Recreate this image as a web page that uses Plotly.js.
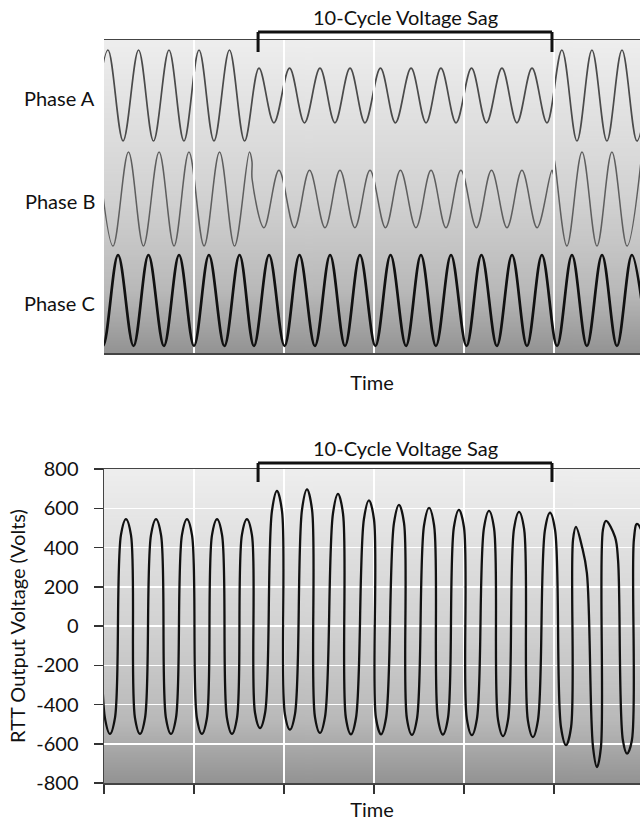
<!DOCTYPE html>
<html>
<head>
<meta charset="utf-8">
<script src="https://cdn.plot.ly/plotly-3.0.1.min.js"></script>
<style>html,body{margin:0;padding:0;background:#fff;overflow:hidden}</style>
</head>
<body>
<div id="chart" style="width:640px;height:822px"></div>
<script>
// ---------------- data (time in ms) ----------------
// Phase voltages in per-unit of the normal amplitude: peaks and troughs
const phaseA_t = [-6.1, 2.2, 10.6, 19.2, 27.5, 36.1, 44.4, 52.8, 61.1, 69.7, 78.1,
  86.1, 94.4, 103.1, 111.4, 120.0, 128.3, 136.7, 145.0, 153.6, 161.9, 170.6, 178.9,
  187.2, 195.6, 204.2, 212.5, 221.1, 229.4, 237.8, 246.1,
  254.4, 262.8, 271.1, 279.4, 287.8, 296.1, 304.4];
const phaseA_v = [-1, 1, -1, 1, -1, 1, -1, 1, -1, 1, -1,
  0.6, -0.6, 0.6, -0.6, 0.6, -0.6, 0.6, -0.6, 0.6, -0.6, 0.6, -0.6,
  0.6, -0.6, 0.6, -0.6, 0.6, -0.6, 0.6, -0.6,
  1, -1, 1, -1, 1, -1, 1];

const phaseB_t = [-3.3, 5.0, 13.6, 21.9, 30.6, 38.9, 47.2, 55.6, 64.2, 72.5, 80.8,
  82.2, 82.3,
  88.9, 97.2, 105.8, 114.2, 122.8, 131.1, 139.4, 147.8, 156.4, 164.7, 173.3, 181.7,
  190.0, 198.3, 206.9, 215.3, 223.9, 232.2, 240.6, 248.9,
  250.0, 250.1,
  257.2, 265.6, 273.9, 282.2, 290.6, 298.9];
const phaseB_v = [1, -1, 1, -1, 1, -1, 1, -1, 1, -1, 1,
  0.8, 0.42,
  -0.61, 0.61, -0.61, 0.61, -0.61, 0.61, -0.61, 0.61, -0.61, 0.61, -0.61, 0.61,
  -0.61, 0.61, -0.61, 0.61, -0.61, 0.61, -0.61, 0.61,
  0.5, 0.87,
  -1, 1, -1, 1, -1, 1];

const phaseC_t = [-9.2, -0.6, 7.8, 16.4, 24.7, 33.3, 41.7, 50.0, 58.3, 66.9, 75.3, 83.3,
  91.7, 100.3, 108.6, 117.2, 125.6, 133.9, 142.2, 150.8, 159.2, 167.8, 176.1, 184.4,
  192.8, 201.4, 209.7, 218.3, 226.7, 235.0, 243.3, 251.7, 260.0, 268.3, 276.7, 285.0,
  293.3, 301.7];
const phaseC_v = [1, -1, 1, -1, 1, -1, 1, -1, 1, -1, 1, -1,
  1, -1, 1, -1, 1, -1, 1, -1, 1, -1, 1, -1,
  1, -1, 1, -1, 1, -1, 1, -1, 1, -1, 1, -1,
  1, -1];

// RTT output voltage (Volts): for each lobe its shoulders and its extreme value
const rtt_t = [-7.2, -4.4,
  0.5, 3.3, 6.1,
  9.4, 12.2, 15.0,
  17.2, 20.0, 22.8,
  26.1, 28.9, 31.7,
  34.4, 37.2, 40.0,
  43.3, 46.1, 48.9,
  51.6, 54.4, 57.2,
  60.0, 62.8, 65.6,
  68.3, 71.1, 73.9,
  76.6, 79.4, 82.2,
  83.9, 86.7, 89.5,
  93.3, 96.1, 98.9,
  100.5, 103.3, 106.1,
  110.0, 112.8, 115.6,
  117.2, 120.0, 122.8,
  127.2, 130.0, 132.8,
  134.4, 137.2, 140.0,
  144.4, 147.2, 150.0,
  151.1, 153.9, 156.7,
  161.1, 163.9, 166.7,
  168.3, 171.1, 173.9,
  177.8, 180.6, 183.4,
  185.5, 188.3, 191.1,
  194.4, 197.2, 200.0,
  201.6, 204.4, 207.2,
  211.1, 213.9, 216.7,
  218.9, 221.7, 224.5,
  227.8, 230.6, 233.4,
  235.5, 238.3, 241.1,
  245.0, 247.8, 250.6,
  253.9, 256.7, 259.5,
  260.6, 262.2, 265.6, 268.3,
  271.7, 273.9, 276.1,
  277.2, 278.9, 283.9, 285.6,
  288.3, 290.6, 293.3,
  294.4, 296.1, 300.0, 306.0];
const rtt_v = [545, 463,
  -468, -550, -468,
  463, 545, 463,
  -468, -550, -468,
  463, 545, 463,
  -468, -550, -468,
  463, 545, 463,
  -468, -550, -468,
  463, 545, 463,
  -468, -550, -468,
  463, 545, 463,
  -442, -520, -442,
  585, 688, 585,
  -449, -528, -449,
  592, 696, 592,
  -463, -545, -463,
  572, 673, 572,
  -469, -552, -469,
  544, 640, 544,
  -469, -552, -469,
  524, 617, 524,
  -472, -555, -472,
  512, 602, 512,
  -470, -553, -470,
  503, 592, 503,
  -473, -556, -473,
  499, 587, 499,
  -477, -561, -477,
  495, 582, 495,
  -481, -566, -481,
  490, 577, 490,
  -516, -607, -516,
  440, 505, 403, 270,
  -617, -719, -617,
  490, 536, 454, 337,
  -582, -650, -582,
  440, 520, 450, -600];

const sagStart = 85.6, sagEnd = 248.9;       // ms
const phaseNames = ['Phase A', 'Phase B', 'Phase C'];
const sagLabel = '10-Cycle Voltage Sag';
const xTitle = 'Time';
const yTitle = 'RTT Output Voltage (Volts)';
const yTicks = [-800, -600, -400, -200, 0, 200, 400, 600, 800];
const yTickText = ['-800', '-600', '-400', '-200', '0', '200', '400', '600', '800'];

// ---------------- layout geometry (px) ----------------
const W = 640, H = 822;
const topPanel = [40, 353], botPanel = [469, 783];
const dom = p => [(H - p[1]) / H, (H - p[0]) / H];
const phaseCenters = [95.5, 199, 300.5];
const phasePx = [45.5, 47, 45.5];
const phaseRange = i => [-(topPanel[1] - phaseCenters[i]) / phasePx[i],
                          (phaseCenters[i] - topPanel[0]) / phasePx[i]];
const py = px => (H - px) / H;   // paper y from pixel row

const FONT = 'Lato, "Open Sans", "DejaVu Sans", sans-serif';
const TXT = '#111111';
const xr = [0, 297.8];

// gradient background image
const cv = document.createElement('canvas'); cv.width = 4; cv.height = 256;
const ctx = cv.getContext('2d');
const grad = ctx.createLinearGradient(0, 0, 0, 256);
grad.addColorStop(0, '#eeeeee'); grad.addColorStop(0.5, '#d2d2d2');
grad.addColorStop(0.8, '#b9b9b9'); grad.addColorStop(1, '#939393');
ctx.fillStyle = grad; ctx.fillRect(0, 0, 4, 256);
const bgURL = cv.toDataURL();

const lineStyles = [
  {color: '#4a4a4a', width: 1.7},
  {color: '#5e5e5e', width: 1.5},
  {color: '#111111', width: 2.7}
];
const phaseData = [[phaseA_t, phaseA_v], [phaseB_t, phaseB_v], [phaseC_t, phaseC_v]];

const traces = phaseData.map((d, i) => ({
  x: d[0], y: d[1], xaxis: 'x', yaxis: 'y' + (i + 2), type: 'scatter', mode: 'lines',
  line: {shape: 'spline', smoothing: 1, color: lineStyles[i].color, width: lineStyles[i].width},
  hoverinfo: 'skip', showlegend: false
}));
traces.push({
  x: rtt_t, y: rtt_v, xaxis: 'x2', yaxis: 'y5', type: 'scatter', mode: 'lines',
  line: {shape: 'spline', smoothing: 1, color: '#111111', width: 2.3},
  hoverinfo: 'skip', showlegend: false
});

const gridCol = '#ffffff';
const axisCol = '#444444';
const hiddenY = i => ({domain: dom(topPanel), overlaying: 'y', anchor: 'x', range: phaseRange(i),
  visible: false, fixedrange: true});

const bracket = (xref, yh, yv) => [
  {type: 'line', xref, yref: 'paper', x0: sagStart, x1: sagStart, y0: py(yv), y1: py(yh), line: {color: '#111', width: 3}},
  {type: 'line', xref, yref: 'paper', x0: sagStart, x1: sagEnd, y0: py(yh), y1: py(yh), line: {color: '#111', width: 3}},
  {type: 'line', xref, yref: 'paper', x0: sagEnd, x1: sagEnd, y0: py(yh), y1: py(yv), line: {color: '#111', width: 3}}
];
const bgImage = p => ({source: bgURL, xref: 'paper', yref: 'paper', x: 0, y: dom(p)[1],
  sizex: 1, sizey: dom(p)[1] - dom(p)[0], xanchor: 'left', yanchor: 'top', sizing: 'stretch', layer: 'below'});

const layout = {
  width: W, height: H,
  margin: {l: 104, r: 0, t: 0, b: 0, pad: 0},
  paper_bgcolor: '#ffffff', plot_bgcolor: 'rgba(0,0,0,0)',
  font: {family: FONT, color: TXT, size: 19},
  showlegend: false,
  xaxis: {domain: [0, 1], anchor: 'y', range: xr, tick0: 0, dtick: 50,
    showgrid: true, gridcolor: gridCol, gridwidth: 1.5, zeroline: false,
    showticklabels: false, ticks: '', showline: true, mirror: true, linecolor: axisCol, linewidth: 1.5,
    title: {text: xTitle, font: {size: 20, family: FONT, color: TXT}, standoff: 22}},
  yaxis: {domain: dom(topPanel), anchor: 'x', range: [0, 8], dtick: 1, tick0: 0,
    showgrid: true, gridcolor: gridCol, gridwidth: 1.5, zeroline: false,
    showticklabels: false, ticks: '', showline: true, linecolor: axisCol, linewidth: 1.5},
  yaxis2: hiddenY(0), yaxis3: hiddenY(1), yaxis4: hiddenY(2),
  xaxis2: {domain: [0, 1], anchor: 'y5', range: xr, tick0: 0, dtick: 50,
    showgrid: true, gridcolor: gridCol, gridwidth: 1.5, zeroline: false,
    showticklabels: false, ticks: 'outside', ticklen: 9, tickwidth: 1.5, tickcolor: '#333',
    showline: true, mirror: true, linecolor: axisCol, linewidth: 1.5,
    title: {text: xTitle, font: {size: 20, family: FONT, color: TXT}, standoff: 10}},
  yaxis5: {domain: dom(botPanel), anchor: 'x2', range: [-800, 800], tickvals: yTicks, ticktext: yTickText,
    showgrid: true, gridcolor: gridCol, gridwidth: 1.5, zeroline: false,
    ticks: 'outside', ticklen: 9, tickwidth: 1.5, tickcolor: '#333', ticklabelstandoff: 11,
    tickfont: {size: 20, family: FONT, color: TXT},
    showline: true, mirror: true, linecolor: axisCol, linewidth: 1.5,
    title: {text: yTitle, font: {size: 20, family: FONT, color: TXT}, standoff: 5}},
  images: [bgImage(topPanel), bgImage(botPanel)],
  shapes: [].concat(bracket('x', 32, 52), bracket('x2', 463, 482)),
  annotations: phaseNames.map((n, i) => ({
    text: n, xref: 'paper', x: 0, xanchor: 'right', xshift: -7,
    yref: 'y' + (i + 2), y: 0, yanchor: 'middle', yshift: -2, showarrow: false,
    font: {size: 20, family: FONT, color: TXT}
  })).concat([
    {text: sagLabel, xref: 'x', x: (sagStart + sagEnd) / 2, yref: 'paper', y: py(17),
     xanchor: 'center', yanchor: 'middle', showarrow: false, font: {size: 20, family: FONT, color: TXT}},
    {text: sagLabel, xref: 'x2', x: (sagStart + sagEnd) / 2, yref: 'paper', y: py(448),
     xanchor: 'center', yanchor: 'middle', showarrow: false, font: {size: 20, family: FONT, color: TXT}}
  ])
};

Plotly.newPlot('chart', traces, layout, {staticPlot: true, displayModeBar: false});
</script>
</body>
</html>
